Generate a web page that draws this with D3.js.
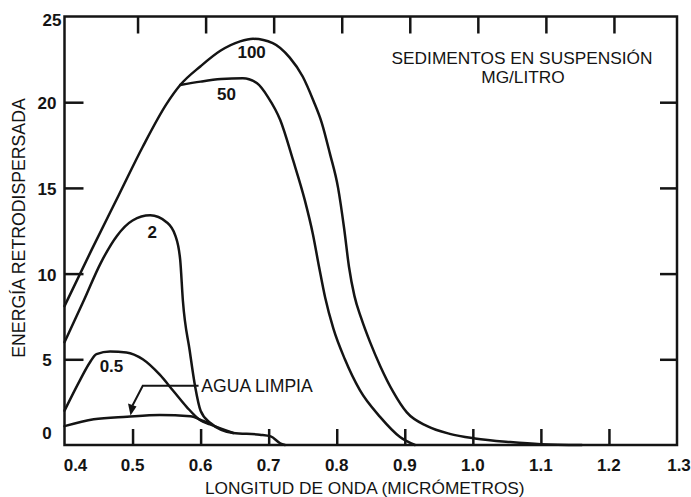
<!DOCTYPE html>
<html>
<head>
<meta charset="utf-8">
<script src="https://cdn.jsdelivr.net/npm/d3@7"></script>
<style>
  html, body { margin: 0; padding: 0; background: #fff; }
  svg { display: block; font-family: "Liberation Sans", Arial, sans-serif; }
</style>
</head>
<body>
<svg id="chart" width="691" height="497"></svg>
<script>
// Backscattered energy vs. wavelength for water with suspended sediments
const xTicks = [0.4, 0.5, 0.6, 0.7, 0.8, 0.9, 1.0, 1.1, 1.2, 1.3];
const yTicks = [0, 5, 10, 15, 20, 25];

// [wavelength (µm), backscattered energy]
const curve100 = [[0.40,8.1],[0.44,11.4],[0.48,14.6],[0.515,17.4],[0.55,19.9],[0.57,21.0],
  [0.60,22.1],[0.629,23.0],[0.658,23.55],[0.677,23.7],[0.706,23.45],[0.731,22.6],
  [0.75,21.5],[0.7656,20.1],[0.778,18.8],[0.790,17.0],[0.802,15.0],[0.811,12.6],
  [0.818,10.4],[0.826,8.7],[0.836,7.4],[0.849,6.0],[0.864,4.6],
  [0.883,3.1],[0.903,1.9],[0.933,1.1],[0.966,0.65],[1.003,0.38],[1.055,0.17],[1.1,0.05],[1.16,0]];
const curve50 = [[0.57,21.0],[0.60,21.2],[0.63,21.35],[0.662,21.4],[0.683,21.1],[0.699,20.3],
  [0.717,18.96],[0.736,16.6],[0.753,14.3],[0.765,12.3],[0.774,10.4],[0.783,8.6],
  [0.795,6.8],[0.812,5.0],[0.834,3.2],[0.864,1.63],[0.893,0.47],[0.915,0]];
const curve2 = [[0.40,6.0],[0.428,8.4],[0.453,10.6],[0.477,12.2],[0.50,13.1],[0.526,13.4],
  [0.55,13.0],[0.563,12.2],[0.570,10.8],[0.574,8.4],[0.584,5.5],[0.592,3.4],[0.600,2.0],
  [0.614,1.3],[0.648,0.7],[0.687,0.6],[0.703,0.5],[0.717,0.1],[0.724,0]];
const curve05 = [[0.40,2.0],[0.423,3.8],[0.437,4.8],[0.447,5.3],[0.467,5.45],[0.491,5.4],
  [0.515,5.0],[0.54,4.1],[0.56,3.15],[0.58,2.2],[0.599,1.46],[0.614,1.2],[0.648,0.7]];
const curveClear = [[0.40,1.1],[0.443,1.5],[0.492,1.65],[0.54,1.75],[0.585,1.68],[0.604,1.4],[0.612,1.27]];

const curveLabels = [
  {text: "100", x: 0.675, y: 22.9},
  {text: "50",  x: 0.638, y: 20.5},
  {text: "2",   x: 0.529, y: 12.4},
  {text: "0.5", x: 0.469, y: 4.6}
];

const svg = d3.select("#chart");
const W = 691, H = 497;
const margin = {left: 64.5, right: W - 677, top: 16.5, bottom: H - 445};

const x = d3.scaleLinear().domain([0.4, 1.3]).range([margin.left, W - margin.right]);
const y = d3.scaleLinear().domain([0, 25]).range([H - margin.bottom, margin.top]);

const ink = "#141414";
const lw = 2.5;
const fs = 17.3;

// Tick marks on all four sides, pointing inward
const inner = xTicks.slice(1, -1);
const innerY = yTicks.slice(1, -1);
svg.append("g").attr("transform", `translate(0,${y(0)})`)
  .call(d3.axisTop(x).tickValues(inner).tickSize(16).tickFormat(""))
  .call(g => g.select(".domain").remove());
svg.append("g").attr("transform", `translate(5,${y(25)})`)
  .call(d3.axisBottom(x).tickValues(inner).tickSize(17).tickFormat(""))
  .call(g => g.select(".domain").remove());
svg.append("g").attr("transform", `translate(${x(0.4)},0)`)
  .call(d3.axisRight(y).tickValues(innerY).tickSize(19).tickFormat(""))
  .call(g => g.select(".domain").remove());
svg.append("g").attr("transform", `translate(${x(1.3)},0)`)
  .call(d3.axisLeft(y).tickValues(innerY).tickSize(17).tickFormat(""))
  .call(g => g.select(".domain").remove());
svg.selectAll(".tick line").attr("stroke", ink).attr("stroke-width", lw);

// Frame
svg.append("rect")
  .attr("x", x(0.4)).attr("y", y(25))
  .attr("width", x(1.3) - x(0.4)).attr("height", y(0) - y(25))
  .attr("fill", "none").attr("stroke", ink).attr("stroke-width", lw);

// Tick labels
svg.append("g").selectAll("text").data(xTicks).join("text")
  .attr("x", (d, i) => x(d) + (i === 0 ? 11 : i === xTicks.length - 1 ? 2 : 0))
  .attr("y", y(0) + 26)
  .attr("text-anchor", "middle")
  .attr("font-size", 17).attr("font-weight", "bold").attr("fill", ink)
  .text(d => d.toFixed(1));

svg.append("g").selectAll("text").data(yTicks).join("text")
  .attr("x", d => d === 25 ? 52 : 47)
  .attr("y", d => y(d) + (d === 0 ? -12 : d === 25 ? 4 : 1))
  .attr("dy", "0.35em")
  .attr("text-anchor", "middle")
  .attr("font-size", 17).attr("font-weight", "bold").attr("fill", ink)
  .text(d => d);

// Axis titles
svg.append("text")
  .attr("x", (x(0.4) + x(1.3)) / 2 - 6).attr("y", 494)
  .attr("text-anchor", "middle").attr("font-size", fs).attr("fill", ink)
  .text("LONGITUD DE ONDA (MICRÓMETROS)");
svg.append("text")
  .attr("transform", `translate(25,${228}) rotate(-90)`)
  .attr("text-anchor", "middle").attr("font-size", fs + 0.4).attr("fill", ink)
  .text("ENERGÍA RETRODISPERSADA");

// Curves
const line = d3.line().x(d => x(d[0])).y(d => y(d[1])).curve(d3.curveMonotoneX);
const curves = [curveClear, curve05, curve2, curve50, curve100];
svg.append("g").selectAll("path").data(curves).join("path")
  .attr("d", line)
  .attr("fill", "none").attr("stroke", ink).attr("stroke-width", lw)
  .attr("stroke-linejoin", "round").attr("stroke-linecap", "round");

// Curve labels
svg.append("g").selectAll("text").data(curveLabels).join("text")
  .attr("x", d => x(d.x)).attr("y", d => y(d.y))
  .attr("text-anchor", "middle").attr("dy", "0.35em")
  .attr("font-size", 17).attr("font-weight", "bold").attr("fill", ink)
  .text(d => d.text);

// Note on the concentration units
svg.append("text")
  .attr("x", 522).attr("y", 64)
  .attr("text-anchor", "middle").attr("font-size", fs).attr("fill", ink)
  .text("SEDIMENTOS EN SUSPENSIÓN");
svg.append("text")
  .attr("x", 523).attr("y", 83)
  .attr("text-anchor", "middle").attr("font-size", fs).attr("fill", ink)
  .text("MG/LITRO");

// Leader with arrow pointing to the clear-water curve
const leaderY = 3.45;
const tip = [0.497, 1.72];
svg.append("path")
  .attr("d", `M${x(0.597)},${y(leaderY)} H${x(0.515)} L${x(tip[0]) + 2},${y(tip[1]) - 10}`)
  .attr("fill", "none").attr("stroke", ink).attr("stroke-width", 2);
const tx = x(tip[0]), ty = y(tip[1]);
svg.append("path")
  .attr("d", `M${tx},${ty} L${tx - 2.5},${ty - 12} L${tx + 6},${ty - 9} Z`)
  .attr("fill", ink);
svg.append("text")
  .attr("x", x(0.601)).attr("y", y(leaderY) + 6)
  .attr("font-size", fs + 0.3).attr("fill", ink)
  .text("AGUA LIMPIA");
</script>
</body>
</html>
